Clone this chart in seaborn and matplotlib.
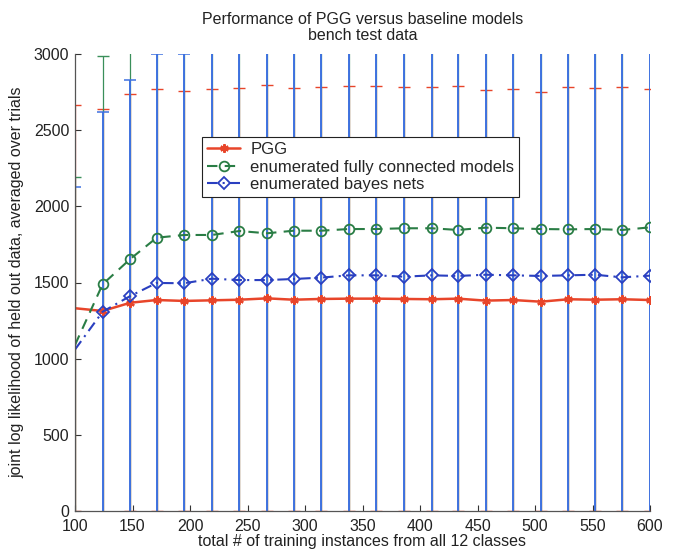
import matplotlib
matplotlib.use("Agg")
import matplotlib.pyplot as plt
import seaborn as sns
import pandas as pd

# ---------------- data ----------------
x_vals = [100, 124, 148, 171, 195, 219, 243, 267, 290, 314, 338,
          362, 386, 410, 433, 457, 481, 505, 529, 552, 576, 600]

pgg = [1331, 1313, 1367, 1385, 1379, 1383, 1387, 1396, 1387, 1392, 1394,
       1394, 1392, 1390, 1394, 1381, 1385, 1374, 1390, 1387, 1390, 1385]
pgg_err = [1333, 1324, 1368, 1387, 1381, 1385, 1389, 1398, 1389, 1394, 1396,
           1396, 1394, 1392, 1396, 1383, 1387, 1376, 1392, 1389, 1392, 1387]

efc = [1090, 1488, 1654, 1794, 1812, 1812, 1838, 1823, 1840, 1840, 1851,
       1851, 1856, 1856, 1845, 1860, 1856, 1851, 1849, 1851, 1845, 1862]
efc_err = [1105, 1499, 1900, 1950, 1950, 1950, 1960, 1950, 1960, 1960, 1970,
           1970, 1970, 1970, 1960, 1970, 1970, 1970, 1960, 1970, 1960, 1970]

ebn = [1060, 1308, 1411, 1497, 1495, 1525, 1516, 1516, 1523, 1532, 1547,
       1547, 1538, 1547, 1543, 1551, 1547, 1543, 1547, 1551, 1534, 1545]
ebn_err = [1065, 1313, 1418, 1501, 1503, 1600, 1600, 1610, 1600, 1610, 1620,
           1620, 1610, 1620, 1620, 1630, 1620, 1620, 1620, 1630, 1610, 1620]

series_names = ["PGG", "enumerated fully connected models", "enumerated bayes nets"]
x_ticks = [100, 150, 200, 250, 300, 350, 400, 450, 500, 550, 600]
y_ticks = [0, 500, 1000, 1500, 2000, 2500, 3000]

title_text = "Performance of PGG versus baseline models\nbench test data"
x_label = "total # of training instances from all 12 classes"
y_label = "joint log likelihood of held out data, averaged over trials"

# ---------------- style ----------------
sns.set_style("ticks")
plt.rcParams["font.family"] = ["Liberation Sans", "DejaVu Sans"]
FS = 11.5
plt.rcParams["font.size"] = FS

fig = plt.figure(figsize=(6.78, 5.54), dpi=100)
ax = fig.add_axes([75 / 678, 43 / 554, 575 / 678, 457 / 554])

red = "#e8452a"
green = "#2a7d45"
green_err = "#3a8f5a"
blue = "#2a3fc0"
blue_err = "#3f72e0"

df = pd.DataFrame({"x": x_vals, "pgg": pgg, "efc": efc, "ebn": ebn})

# error bars (drawn in series order, like MATLAB errorbar)
ax.errorbar(x_vals, pgg, yerr=pgg_err, fmt="none", ecolor=red,
            elinewidth=0.9, capsize=4.5, capthick=1.0, zorder=2.0)
ax.errorbar(x_vals, efc, yerr=efc_err, fmt="none", ecolor=green_err,
            elinewidth=0.9, capsize=4.5, capthick=1.0, zorder=2.1)
ax.errorbar(x_vals, ebn, yerr=ebn_err, fmt="none", ecolor=blue_err,
            elinewidth=1.4, capsize=4.5, capthick=1.1, zorder=2.2)

sns.lineplot(data=df, x="x", y="pgg", ax=ax, color=red, linewidth=1.8,
             marker=(6, 2, 0), markersize=6, mec=red, mew=1.6,
             markevery=slice(1, None), label=series_names[0], zorder=4)
sns.lineplot(data=df, x="x", y="efc", ax=ax, color=green, linewidth=1.5,
             linestyle=(0, (5, 3.5)), marker="o", markersize=7,
             mec=green, mfc="none", mew=1.3,
             markevery=slice(1, None), label=series_names[1], zorder=4)
sns.lineplot(data=df, x="x", y="ebn", ax=ax, color=blue, linewidth=1.5,
             linestyle=(0, (5, 2.5, 1, 2.5)), marker="D", markersize=6,
             mec=blue, mfc="none", mew=1.3,
             markevery=slice(1, None), label=series_names[2], zorder=4)

ax.set_xlim(100, 600)
ax.set_ylim(0, 3000)
ax.set_xticks(x_ticks)
ax.set_yticks(y_ticks)
ax.tick_params(direction="in", length=4, width=0.8, colors="#333333",
               labelcolor="#222222", labelsize=FS)
ax.tick_params(axis="y", pad=4)
ax.tick_params(axis="x", pad=6)
for side in ["top", "right"]:
    ax.spines[side].set_visible(False)
for side in ["left", "bottom"]:
    ax.spines[side].set_color("#555555")
    ax.spines[side].set_linewidth(0.9)
    ax.spines[side].set_zorder(5)

ax.set_xlabel(x_label, fontsize=FS, labelpad=0, color="#222222")
ax.set_ylabel(y_label, fontsize=FS, labelpad=7, color="#222222")
ax.set_title(title_text, fontsize=FS, pad=10, color="#222222", linespacing=1.1)

leg = ax.legend(loc="upper left", bbox_to_anchor=(0.221, 0.818),
                frameon=True, fancybox=False, fontsize=12,
                handlelength=2.0, borderpad=0.3, labelspacing=0.15,
                handletextpad=0.6, borderaxespad=0)
leg.get_frame().set_edgecolor("#222222")
leg.get_frame().set_linewidth(0.8)
leg.get_frame().set_alpha(1.0)
leg.set_zorder(10)

fig.savefig("out.png", dpi=100)
